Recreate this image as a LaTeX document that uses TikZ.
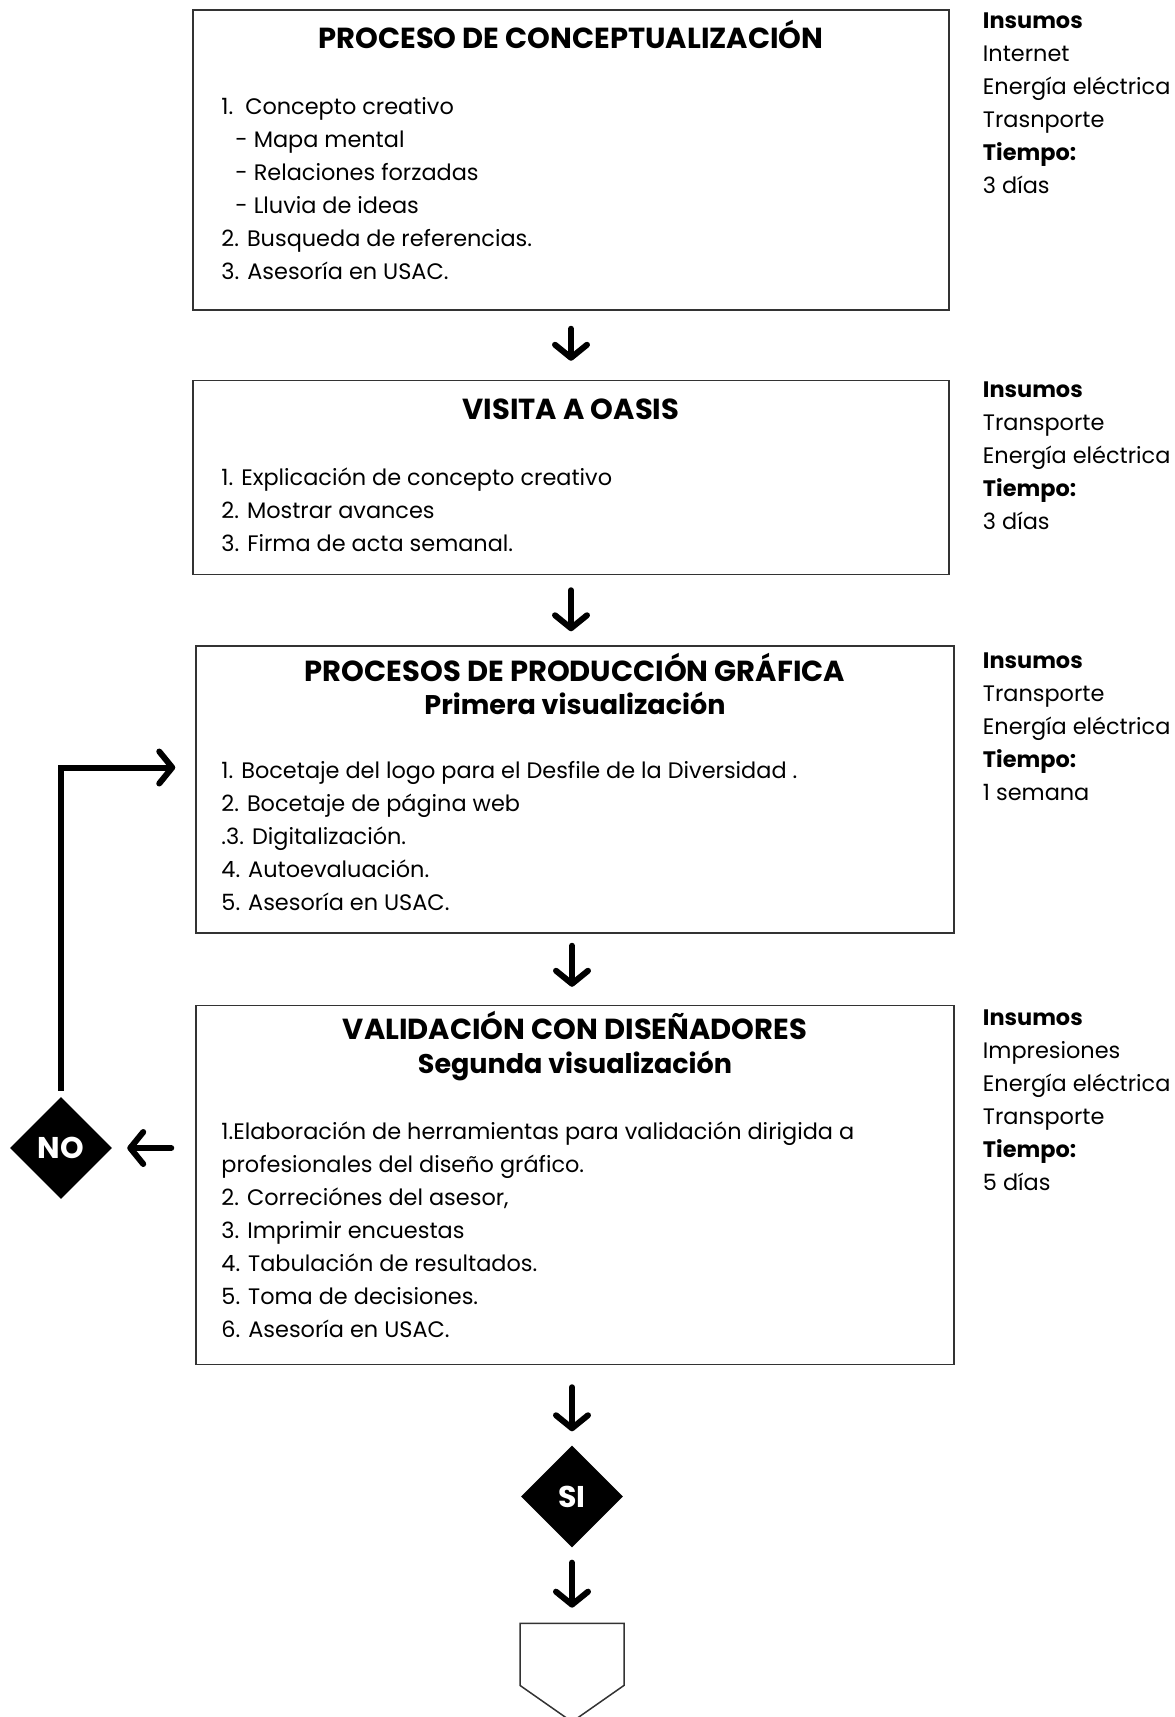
\documentclass[tikz,border=0pt]{standalone}
\usepackage{fontspec}
\setmainfont{Poppins}
\usetikzlibrary{positioning,arrows.meta,shapes.geometric,shapes.symbols}

\begin{document}
\begin{tikzpicture}[
    x=1pt, y=-1pt,
    node distance=69pt,
    stage/.style={
        rectangle, line width=1.5pt, draw=black!80, minimum width=756pt
    },
    heading/.style={
        anchor=base, inner sep=0pt, font=\fontsize{29}{33}\selectfont\bfseries
    },
    subheading/.style={
        anchor=base, inner sep=0pt, font=\fontsize{27}{33}\selectfont\bfseries
    },
    steps/.style={
        anchor=north west, inner sep=0pt, align=left, font=\fontsize{22.4}{33}\selectfont
    },
    resources/.style={
        anchor=north west, inner sep=0pt, align=left, font=\fontsize{22.4}{33}\selectfont
    },
    decision/.style={
        diamond, fill=black, text=white, inner sep=0pt,
        minimum width=102pt, minimum height=102pt, font=\fontsize{30}{30}\selectfont\bfseries
    },
    offpage/.style={
        signal, signal to=south, signal pointer angle=110, draw=black!80, line width=1.5pt,
        minimum width=104pt, minimum height=62pt, inner sep=0pt
    },
    flow/.style={
        line width=6pt, line cap=round, -{Straight Barb[length=13pt,width=32pt,round]}
    }
]
    \useasboundingbox (0,0) rectangle (1175,1717);

    \node (con) [stage, minimum height=300pt] at (571,160) {};
    \node (conh) [heading] at ([yshift=-39pt]con.north) {PROCESO DE CONCEPTUALIZACIÓN};
    \node (conl) [steps] at ([xshift=29pt,yshift=-88pt]con.north west) {1.\ \ Concepto creativo\\ \hspace*{14pt}- Mapa mental\\ \hspace*{14pt}- Relaciones forzadas\\ \hspace*{14pt}- Lluvia de ideas\\ 2. Busqueda de referencias.\\ 3. Asesoría en USAC.};
    \node (conr) [resources] at ([xshift=33pt,yshift=-3pt]con.north east) {\textbf{Insumos}\\ Internet\\ Energía eléctrica\\ Trasnporte\\ \textbf{Tiempo:}\\ 3 días};

    \node (vis) [stage, minimum height=194pt, below=of con] {};
    \node (vish) [heading] at ([yshift=-40pt]vis.north) {VISITA A OASIS};
    \node (visl) [steps] at ([xshift=29pt,yshift=-88pt]vis.north west) {1. Explicación de concepto creativo\\ 2. Mostrar avances\\ 3. Firma de acta semanal.};
    \node (visr) [resources] at ([xshift=33pt,yshift=-2pt]vis.north east) {\textbf{Insumos}\\ Transporte\\ Energía eléctrica\\ \textbf{Tiempo:}\\ 3 días};

    \node (pro) [stage, minimum width=758pt, minimum height=287pt, below=70pt of vis, xshift=4pt] {};
    \node (proh) [heading] at ([yshift=-36pt]pro.north) {PROCESOS DE PRODUCCIÓN GRÁFICA};
    \node (pros) [subheading] at ([yshift=-33pt]proh.base) {Primera visualización};
    \node (prol) [steps] at ([xshift=26pt,yshift=-116pt]pro.north west) {1. Bocetaje del logo para el Desfile de la Diversidad .\\ 2. Bocetaje de página web\\ .3. Digitalización.\\ 4. Autoevaluación.\\ 5. Asesoría en USAC.};
    \node (pror) [resources] at ([xshift=28pt,yshift=-7pt]pro.north east) {\textbf{Insumos}\\ Transporte\\ Energía eléctrica\\ \textbf{Tiempo:}\\ 1 semana};

    \node (val) [stage, minimum width=758pt, minimum height=359pt, below=71pt of pro] {};
    \node (valh) [heading] at ([yshift=-35pt]val.north) {VALIDACIÓN CON DISEÑADORES};
    \node (vals) [subheading] at ([yshift=-34pt]valh.base) {Segunda visualización};
    \node (vall) [steps] at ([xshift=26pt,yshift=-117pt]val.north west) {1.Elaboración de herramientas para validación dirigida a\\ profesionales del diseño gráfico.\\ 2. Correciónes del asesor,\\ 3. Imprimir encuestas\\ 4. Tabulación de resultados.\\ 5. Toma de decisiones.\\ 6. Asesoría en USAC.};
    \node (valr) [resources] at ([xshift=28pt,yshift=-5pt]val.north east) {\textbf{Insumos}\\ Impresiones\\ Energía eléctrica\\ Transporte\\ \textbf{Tiempo:}\\ 5 días};

    \node (si) [decision, below=80pt of val, xshift=-3pt] {SI};
    \node (fin) [offpage, below=75pt of si] {};
    \node (no) [decision, left=83pt of val.west, yshift=37pt] {NO};
    \coordinate (proin) at ([yshift=22pt]pro.west);

    \draw [flow, shorten <=18pt, shorten >=19pt] (con.south) -- (vis.north);
    \draw [flow, shorten <=15pt, shorten >=14pt] (vis.south) -- (vis.south |- pro.north);
    \draw [flow, shorten <=12pt, shorten >=18pt] (si.south |- pro.south) -- (si.south |- val.north);
    \draw [flow, shorten <=22pt, shorten >=14pt] (si.north |- val.south) -- (si.north);
    \draw [flow, shorten <=15pt, shorten >=15pt] (si.south) -- (fin.north);
    \draw [flow, shorten <=24pt, shorten >=15pt] (val.west |- no) -- (no.east);

    \draw [flow, line cap=butt, shorten <=6pt, shorten >=20pt] (no.north) |- (proin);
\end{tikzpicture}
\end{document}
